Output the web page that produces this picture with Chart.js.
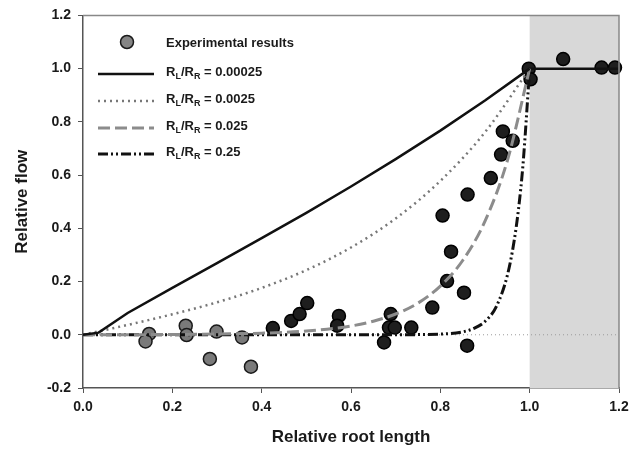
<!DOCTYPE html>
<html lang="en">
<head>
<meta charset="UTF-8">
<title>Relative flow vs relative root length</title>
<script src="https://cdn.jsdelivr.net/npm/chart.js@4"></script>
<style>
  html, body { margin: 0; padding: 0; background: #fff; }
  #wrap { width: 644px; height: 455px; }
</style>
</head>
<body>
<div id="wrap"><canvas id="flowChart" width="644" height="455"></canvas></div>
<script>
// experimental points (lighter grey ones at short lengths, dark ones beyond)
const expLightX = [0.148, 0.140, 0.230, 0.232, 0.299, 0.284, 0.356, 0.376];
const expLightY = [0.003, -0.025, 0.034, -0.001, 0.012, -0.091, -0.010, -0.120];
const expDarkX = [0.425, 0.466, 0.485, 0.502, 0.573, 0.569, 0.689, 0.685, 0.698, 0.674, 0.735,
                  0.782, 0.815, 0.853, 0.824, 0.805, 0.861, 0.860, 0.913, 0.936, 0.940, 0.962,
                  0.998, 1.002, 1.075, 1.161, 1.191];
const expDarkY = [0.025, 0.052, 0.078, 0.119, 0.071, 0.034, 0.078, 0.027, 0.027, -0.029, 0.027,
                  0.102, 0.202, 0.158, 0.312, 0.448, 0.527, -0.041, 0.589, 0.677, 0.764, 0.729,
                  1.000, 0.960, 1.036, 1.004, 1.004];

// model curves
const solidX = [0, 0.035, 0.1, 0.2, 0.3, 0.4, 0.5, 0.6, 0.7, 0.8, 0.9, 1.0];
const solidY = [0, 0.008, 0.082, 0.176, 0.269, 0.363, 0.458, 0.557, 0.660, 0.767, 0.880, 1.0];
const dottedX = [0, 0.1, 0.2, 0.3, 0.4, 0.5, 0.6, 0.7, 0.8, 0.9, 1.0];
const dottedY = [0, 0.037, 0.077, 0.122, 0.176, 0.243, 0.328, 0.437, 0.578, 0.761, 1.0];
const dashedX = [0, 0.2, 0.3, 0.4, 0.5, 0.6, 0.65, 0.7, 0.75, 0.8, 0.85, 0.9, 0.95, 1.0];
const dashedY = [0, 0.001, 0.003, 0.006, 0.014, 0.033, 0.051, 0.078, 0.119, 0.183, 0.279, 0.427, 0.654, 1.0];
const dashDotX = [0, 0.5, 0.7, 0.8, 0.85, 0.875, 0.9, 0.925, 0.95, 0.965, 0.975, 0.985, 1.0];
const dashDotY = [0, 0, 0.0003, 0.0025, 0.011, 0.024, 0.05, 0.105, 0.223, 0.35, 0.472, 0.638, 1.0];
const plateauX = [1.0, 1.2];
const plateauY = [1.0, 1.0];
const zeroX = [0, 1.2];
const zeroY = [0, 0];

const ratioLabels = ['0.00025', '0.0025', '0.025', '0.25'];
const xTickValues = [0, 0.2, 0.4, 0.6, 0.8, 1.0, 1.2];
const yTickValues = [-0.2, 0, 0.2, 0.4, 0.6, 0.8, 1.0, 1.2];
const shadeFrom = 1.0;

const FONT = "'Liberation Sans', Arial, sans-serif";
const INK = '#1a1a1a';

function pts(xs, ys) {
    return xs.map((x, i) => ({ x: x, y: ys[i] }));
}

function curve(label, xs, ys, color, width, dash, smooth) {
    return {
        type: 'line', label: label, data: pts(xs, ys),
        borderColor: color, borderWidth: width, borderDash: dash,
        pointRadius: 0, fill: false, order: 2,
        cubicInterpolationMode: smooth ? 'monotone' : 'default', tension: 0
    };
}

const curves = [
    curve('solid', solidX, solidY, '#111', 2.5, [], false),
    curve('dotted', dottedX, dottedY, '#777', 2.5, [2, 4], true),
    curve('dashed', dashedX, dashedY, '#8c8c8c', 3, [12, 5], true),
    curve('dashdot', dashDotX, dashDotY, '#111', 3, [10, 3, 2, 3, 2, 3], true)
];

// grey band for x > 1 and the plot frame
const shadePlugin = {
    id: 'shade',
    beforeDatasetsDraw(chart) {
        const { ctx, chartArea, scales } = chart;
        const x0 = scales.x.getPixelForValue(shadeFrom);
        ctx.save();
        ctx.fillStyle = '#d8d8d8';
        ctx.fillRect(x0, chartArea.top, chartArea.right - x0, chartArea.bottom - chartArea.top);
        ctx.restore();
    },
    afterDraw(chart) {
        const { ctx, chartArea } = chart;
        ctx.save();
        ctx.strokeStyle = '#888';
        ctx.lineWidth = 1.5;
        ctx.beginPath();
        ctx.moveTo(chartArea.left, chartArea.top);
        ctx.lineTo(chartArea.right, chartArea.top);
        ctx.lineTo(chartArea.right, chartArea.bottom);
        ctx.stroke();
        ctx.restore();
    }
};

// legend drawn inside the plot, top left
const legendPlugin = {
    id: 'insideLegend',
    afterDraw(chart) {
        const ctx = chart.ctx;
        ctx.save();
        ctx.textBaseline = 'alphabetic';
        ctx.textAlign = 'left';

        // marker row
        ctx.beginPath();
        ctx.arc(127, 42, 6.5, 0, Math.PI * 2);
        ctx.fillStyle = '#858585';
        ctx.fill();
        ctx.lineWidth = 1.5;
        ctx.strokeStyle = INK;
        ctx.stroke();
        ctx.fillStyle = INK;
        ctx.font = 'bold 13px ' + FONT;
        ctx.fillText('Experimental results', 166, 47);

        const rowY = [71, 98, 125, 151];
        curves.forEach((ds, i) => {
            const ly = rowY[i] + 3;
            ctx.save();
            ctx.strokeStyle = ds.borderColor;
            ctx.lineWidth = ds.borderWidth;
            ctx.setLineDash(ds.borderDash);
            ctx.beginPath();
            ctx.moveTo(98, ly);
            ctx.lineTo(154, ly);
            ctx.stroke();
            ctx.restore();

            let x = 166;
            const base = rowY[i] + 5;
            const parts = [['R', false], ['L', true], ['/R', false], ['R', true], [' = ' + ratioLabels[i], false]];
            parts.forEach(([t, sub]) => {
                ctx.font = sub ? 'bold 9px ' + FONT : 'bold 13px ' + FONT;
                ctx.fillText(t, x, sub ? base + 3 : base);
                x += ctx.measureText(t).width;
            });
        });
        ctx.restore();
    }
};

const tickFont = { family: FONT, size: 14, weight: 'bold' };
const titleFont = { family: FONT, size: 17, weight: 'bold' };

new Chart(document.getElementById('flowChart'), {
    data: {
        datasets: [
            {
                type: 'scatter', label: 'Experimental results', data: pts(expLightX, expLightY),
                pointRadius: 6.5, pointBackgroundColor: '#7a7a7a', pointBorderColor: INK,
                pointBorderWidth: 1.5, order: 10, clip: false
            },
            {
                type: 'scatter', label: 'Experimental results (dark)', data: pts(expDarkX, expDarkY),
                pointRadius: 6.5, pointBackgroundColor: '#1e1e1e', pointBorderColor: '#000',
                pointBorderWidth: 1.5, order: 10, clip: false
            },
            ...curves,
            {
                type: 'line', label: 'plateau', data: pts(plateauX, plateauY),
                borderColor: '#111', borderWidth: 2.5, pointRadius: 0, fill: false, order: 3
            },
            {
                type: 'line', label: 'zero', data: pts(zeroX, zeroY),
                borderColor: '#9a9a9a', borderWidth: 1, borderDash: [1, 3], pointRadius: 0, fill: false, order: 11
            }
        ]
    },
    options: {
        responsive: false,
        animation: false,
        layout: { padding: { top: 13, right: 25, left: 0, bottom: 0 } },
        plugins: { legend: { display: false }, tooltip: { enabled: false } },
        scales: {
            x: {
                type: 'linear', min: 0, max: 1.2,
                afterFit(scale) { scale.height = 67; },
                afterBuildTicks(scale) { scale.ticks = xTickValues.map(v => ({ value: v })); },
                grid: { drawOnChartArea: false, drawTicks: true, tickLength: 5, color: '#555' },
                border: { color: '#555', width: 1.5 },
                ticks: { color: INK, font: tickFont, padding: 6, maxRotation: 0, callback: v => v.toFixed(1) },
                title: { display: true, text: 'Relative root length', color: INK, font: titleFont, padding: { top: 0, bottom: 7 } }
            },
            y: {
                type: 'linear', min: -0.2, max: 1.2,
                afterFit(scale) { scale.width = 83; },
                afterBuildTicks(scale) { scale.ticks = yTickValues.map(v => ({ value: v })); },
                grid: { drawOnChartArea: false, drawTicks: true, tickLength: 5, color: '#555' },
                border: { color: '#555', width: 1.5 },
                ticks: { color: INK, font: tickFont, padding: 7, callback: v => v.toFixed(1) },
                title: { display: true, text: 'Relative flow', color: INK, font: titleFont, padding: { top: 12, bottom: 0 } }
            }
        }
    },
    plugins: [shadePlugin, legendPlugin]
});
</script>
</body>
</html>
